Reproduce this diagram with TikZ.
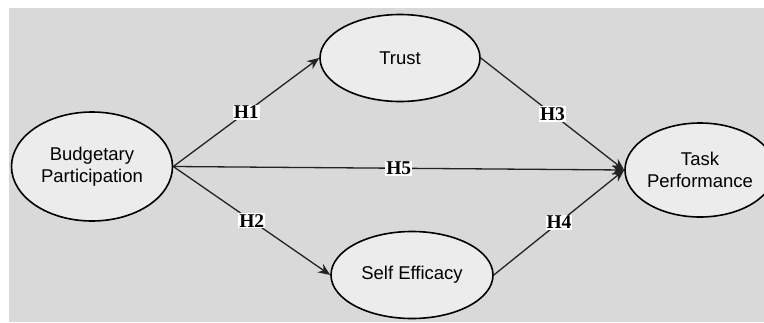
\documentclass[tikz,border=0pt]{standalone}
\usepackage{fontspec}
\setmainfont{Liberation Sans}
\newfontfamily\hypfont{Liberation Serif}
\usetikzlibrary{shapes.geometric,arrows.meta}
\definecolor{panelgray}{RGB}{217,217,217}
\definecolor{bubblegray}{RGB}{236,236,236}
\definecolor{linegray}{RGB}{34,34,34}
\tikzset{
  construct/.style={ellipse, draw=black, line width=1.6pt, fill=bubblegray, inner sep=0pt,
    align=center, font=\fontsize{18.5}{21.6}\selectfont},
  path/.style={draw=linegray, line width=1.3pt, -{Stealth[length=12pt,width=10pt]}},
  hyp/.style={fill=white, inner sep=1pt, font=\hypfont\bfseries\fontsize{19.5}{19.5}\selectfont}
}
\begin{document}
\begin{tikzpicture}[x=1pt, y=-1pt]
            \useasboundingbox (0,0) rectangle (764,322);
            \fill[panelgray] (9,8) rectangle (764,322);
            \node[construct, minimum width=161pt, minimum height=109pt] (bp) at (92,166.5) {Budgetary\\Participation};
            \node[construct, minimum width=160pt, minimum height=87pt] (trust) at (400,58) {Trust};
            \node[construct, minimum width=162pt, minimum height=87pt] (se) at (412,275) {Self Efficacy};
            \node[construct, minimum width=150pt, minimum height=94pt] (tp) at (700,170) {Task\\Performance};
            \draw[path] (bp.east) -- (trust.west) node[midway, hyp] {H1};
            \draw[path] (bp.east) -- (se.west) node[midway, hyp] {H2};
            \draw[path] (trust.east) -- (tp.west) node[midway, hyp] {H3};
            \draw[path] (se.east) -- (tp.west) node[midway, hyp] {H4};
            \draw[path] (bp.east) -- (tp.west) node[midway, hyp] {H5};
        \end{tikzpicture}
\end{document}
